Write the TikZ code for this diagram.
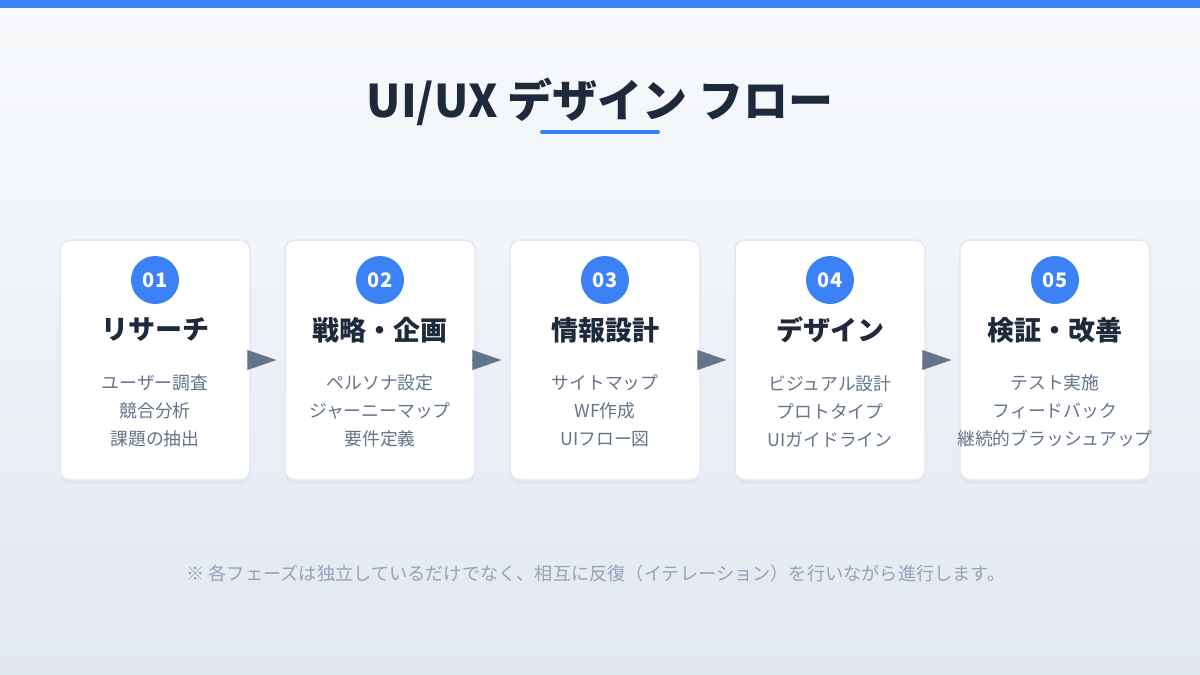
\documentclass[tikz,border=0pt]{standalone}
\usepackage{fontspec}
\setmainfont{Noto Sans CJK JP}
\usetikzlibrary{arrows.meta,shadows}
\definecolor{flowblue}{HTML}{3B82F6}
\definecolor{inkdark}{HTML}{1E293B}
\definecolor{inkgray}{HTML}{64748B}
\definecolor{inklight}{HTML}{94A3B8}
\definecolor{bgtop}{HTML}{F8FAFC}
\definecolor{bgbottom}{HTML}{E2E8F0}
\definecolor{cardline}{HTML}{E2E8F0}
\begin{document}
\begin{tikzpicture}[x=0.5pt,y=-0.5pt,
    card/.style={draw=cardline, line width=0.75pt, fill=white, rounded corners=5pt,
      minimum width=95pt, minimum height=120pt, inner sep=0pt,
      drop shadow={opacity=0.06, shadow xshift=0pt, shadow yshift=-2pt}},
    numdot/.style={circle, fill=flowblue, minimum size=24pt, inner sep=0pt,
      text=white, font=\bfseries\fontsize{10}{12}\selectfont},
    cardtitle/.style={text=inkdark, font=\bfseries\fontsize{13.5}{16}\selectfont},
    cardtext/.style={text=inkgray, align=center, font=\fontsize{8.9}{14}\selectfont},
    flow/.style={-{Triangle[length=14.5pt,width=10pt]}, draw=inkgray, fill=inkgray,
      line width=0.1pt, shorten >=4pt}]
  \useasboundingbox (0,0) rectangle (1200,675);
  \shade[top color=bgtop, bottom color=bgbottom] (0,0) rectangle (1200,675);
  \fill[flowblue] (0,0) rectangle (1200,8);

  \node[anchor=base, text=inkdark, font=\bfseries\fontsize{22.5}{27}\selectfont]
    (title) at (600,117) {UI/UX デザイン フロー};
  \draw[flowblue, line width=2pt, line cap=round] (542,132) -- (658,132);

  \node[card] (card1) at (155,360) {};
  \node[card] (card2) at (380,360) {};
  \node[card] (card3) at (605,360) {};
  \node[card] (card4) at (830,360) {};
  \node[card] (card5) at (1055,360) {};

  \node[numdot] (num1) at (155,280) {01};
  \node[numdot] (num2) at (380,280) {02};
  \node[numdot] (num3) at (605,280) {03};
  \node[numdot] (num4) at (830,280) {04};
  \node[numdot] (num5) at (1055,280) {05};

  \node[cardtitle] (head1) at (155,330) {リサーチ};
  \node[cardtitle] (head2) at (380,330) {戦略・企画};
  \node[cardtitle] (head3) at (605,330) {情報設計};
  \node[cardtitle] (head4) at (830,330) {デザイン};
  \node[cardtitle] (head5) at (1055,330) {検証・改善};

  \node[cardtext] (list1) at (155,411) {ユーザー調査\\競合分析\\課題の抽出};
  \node[cardtext] (list2) at (380,411) {ペルソナ設定\\ジャーニーマップ\\要件定義};
  \node[cardtext] (list3) at (605,411) {サイトマップ\\WF作成\\UIフロー図};
  \node[cardtext] (list4) at (830,411) {ビジュアル設計\\プロトタイプ\\UIガイドライン};
  \node[cardtext] (list5) at (1055,411) {テスト実施\\フィードバック\\継続的ブラッシュアップ};

  \begin{scope}[flow]
    \draw (card1.east) -- (card2.west);
    \draw (card2.east) -- (card3.west);
    \draw (card3.east) -- (card4.west);
    \draw (card4.east) -- (card5.west);
  \end{scope}

  \node[text=inklight, font=\fontsize{9.1}{11}\selectfont] (note) at (596,574)
    {※ 各フェーズは独立しているだけでなく、相互に反復（イテレーション）を行いながら進行します。};
\end{tikzpicture}
\end{document}
